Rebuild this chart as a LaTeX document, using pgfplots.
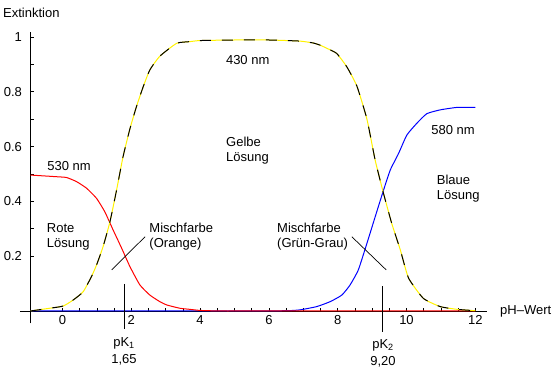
\documentclass[border=0pt]{standalone}
\usepackage{fontspec}
\setmainfont{Liberation Sans}
\usepackage{pgfplots}
\pgfplotsset{compat=1.18}
\begin{document}
\begin{tikzpicture}
\begin{axis}[
  x=34.4pt, y=274pt,
  xmin=-0.93, xmax=12.35, ymin=-0.045, ymax=1.02,
  axis x line=middle, axis y line=left,
  axis line style={-, black, line width=0.7pt},
  xtick={0,2,...,12}, ytick={0.2,0.4,0.6,0.8,1},
  minor x tick num=3, minor y tick num=1,
  tick align=inside,
  major tick length=3pt, minor tick length=3pt,
  tick style={black, line width=0.7pt},
  every tick label/.append style={font=\fontsize{13}{15}\selectfont},
  yticklabel style={xshift=-5pt},
  xticklabel style={yshift=-1pt},
  /pgf/number format/assume math mode=true,
  clip=false,
  every axis plot/.append style={line width=1pt},
]
% blue, 580 nm
\addplot[blue, mark=none, smooth, tension=0.3] coordinates {
(-0.93,0) (1,0) (3,0) (5,0) (6.5,0.001) (6.9,0.004) (7.39,0.016) (7.78,0.034) (8.12,0.058) (8.36,0.095)
(8.6,0.15) (8.85,0.247) (9.09,0.344) (9.33,0.44) (9.53,0.515) (9.77,0.575)
(10.01,0.642) (10.3,0.685) (10.59,0.72) (10.98,0.734) (11.47,0.743) (12.0,0.743)};
% red, 530 nm
\addplot[red, mark=none, smooth, tension=0.3] coordinates {
(-0.93,0.496) (-0.17,0.49) (0.12,0.487) (0.41,0.472) (0.70,0.448) (0.99,0.411)
(1.23,0.362) (1.47,0.296) (1.72,0.229) (1.96,0.162) (2.25,0.095) (2.54,0.058)
(2.83,0.034) (3.03,0.022) (3.41,0.01) (3.70,0.006) (4.0,0.002) (4.6,0.0) (5.3,0.0)
(7,0.0) (9,0.0) (11,0.0) (12.0,0.0)};
% yellow/black, 430 nm
\pgfplotstableread{
x y
-0.93 0
-0.37 0.01
0.02 0.018
0.31 0.04
0.6 0.07
0.84 0.125
0.99 0.168
1.18 0.235
1.38 0.326
1.57 0.44
1.76 0.563
1.96 0.665
2.15 0.746
2.35 0.82
2.54 0.88
2.83 0.93
3.32 0.977
3.7 0.983
4.0 0.987
5.0 0.989
6.0 0.989
6.9 0.985
7.29 0.978
7.49 0.97
7.68 0.959
7.97 0.94
8.27 0.89
8.56 0.82
8.85 0.70
9.09 0.55
9.33 0.43
9.57 0.32
9.82 0.223
10.06 0.12
10.49 0.046
10.98 0.016
11.47 0.006
12.0 0.001
}\yellowdata
\addplot[yellow, mark=none, smooth, tension=0.3] table {\yellowdata};
\addplot[black, mark=none, smooth, tension=0.3, dash pattern=on 11pt off 11pt] table {\yellowdata};
% axis extension and annotations
\draw[black, line width=0.7pt] (axis cs:-1.24,0) -- (axis cs:-0.93,0);
\draw[black, line width=0.8pt] (axis cs:1.79,0.0985) -- (axis cs:1.79,-0.067);
\draw[black, line width=0.8pt] (axis cs:9.30,0.091) -- (axis cs:9.30,-0.075);
\draw[black, line width=0.7pt] (axis cs:2.40,0.271) -- (axis cs:1.43,0.15);
\draw[black, line width=0.7pt] (axis cs:8.41,0.271) -- (axis cs:9.41,0.15);
\begin{scope}[every node/.style={font=\fontsize{13}{15}\selectfont, inner sep=0pt}]
\node[anchor=west] at (axis cs:-1.73,1.088) {Extinktion};
\node at (axis cs:0.189,0.529) {530 nm};
\node at (axis cs:5.384,0.916) {430 nm};
\node at (axis cs:11.352,0.661) {580 nm};
\node[anchor=west, align=left] at (axis cs:-0.459,0.27) {Rote\\Lösung};
\node[anchor=west, align=left] at (axis cs:2.523,0.27) {Mischfarbe\\(Orange)};
\node[anchor=west, align=left] at (axis cs:6.235,0.272) {Mischfarbe\\(Grün-Grau)};
\node[anchor=west, align=left] at (axis cs:4.753,0.586) {Gelbe\\Lösung};
\node[anchor=west, align=left] at (axis cs:10.878,0.447) {Blaue\\Lösung};
\node[anchor=west] at (axis cs:12.718,-0.0026) {pH--Wert};
\node[align=center] at (axis cs:1.788,-0.148) {pK\textsubscript{1}\\[2pt]1,65};
\node[align=center] at (axis cs:9.317,-0.153) {pK\textsubscript{2}\\[2pt]9,20};
\end{scope}
\path (axis cs:-1.817,-0.2226) rectangle (axis cs:14.317,1.135);
\end{axis}
\end{tikzpicture}
\end{document}
